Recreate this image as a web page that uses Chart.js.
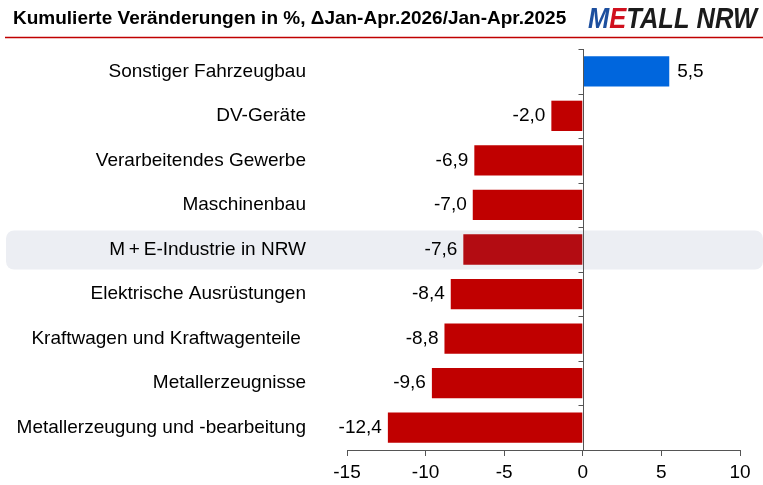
<!DOCTYPE html>
<html>
<head>
<meta charset="utf-8">
<script src="https://cdn.jsdelivr.net/npm/chart.js@4"></script>
<style>
  html, body { margin: 0; padding: 0; background: #fff; }
  #wrap { width: 763px; height: 485px; }
</style>
</head>
<body>
<div id="wrap"><canvas id="barChart" width="763" height="485"></canvas></div>
<script>
const categories = [
  "Sonstiger Fahrzeugbau",
  "DV-Geräte",
  "Verarbeitendes Gewerbe",
  "Maschinenbau",
  "M\u2009+\u2009E-Industrie in NRW",
  "Elektrische Ausrüstungen",
  "Kraftwagen und Kraftwagenteile ",
  "Metallerzeugnisse",
  "Metallerzeugung und -bearbeitung",
];
const changes = [5.5, -2.0, -6.9, -7.0, -7.6, -8.4, -8.8, -9.6, -12.4];
const highlightIndex = 4;
const xTicks = [-15, -10, -5, 0, 5, 10];

const title = "Kumulierte Veränderungen in %, \u0394Jan-Apr.2026/Jan-Apr.2025";
const FONT = "'Liberation Sans', Arial, sans-serif";

const barColors = changes.map((v, i) => {
  if (i === highlightIndex) return "#b30c12";
  return v >= 0 ? "#0066dd" : "#c00000";
});

const ctx = document.getElementById("barChart");

const decor = {
  id: "decor",
  beforeDraw(chart) {
    const c = chart.ctx;
    const y = chart.scales.y;
    // highlight band
    const yc = y.getPixelForValue(highlightIndex);
    c.save();
    c.fillStyle = "#eceef3";
    c.beginPath();
    c.roundRect(6, yc - 19, 757, 39, 8);
    c.fill();
    c.restore();
  },
  afterDraw(chart) {
    const c = chart.ctx;
    const x = chart.scales.x;
    const y = chart.scales.y;
    const area = chart.chartArea;
    c.save();
    // title
    c.fillStyle = "#000";
    c.font = "bold 19px " + FONT;
    c.textBaseline = "middle";
    c.textAlign = "left";
    c.fillText(title, 13, 19);
    // logo, squeezed to the reference width
    c.save();
    c.font = "italic bold 30px " + FONT;
    const parts = [["M", "#1d4f9e"], ["E", "#d0101e"], ["TALL NRW", "#1b1b1b"]];
    const full = c.measureText("METALL NRW").width;
    c.translate(588, 20);
    c.scale(169 / full, 1);
    let px = 0;
    parts.forEach(([t, col]) => {
      c.fillStyle = col;
      c.fillText(t, px, 0);
      px += c.measureText(t).width;
    });
    c.restore();
    // red rule
    c.strokeStyle = "#c00000";
    c.lineWidth = 1.5;
    c.beginPath();
    c.moveTo(5, 37.5);
    c.lineTo(763, 37.5);
    c.stroke();
    // zero line with category ticks
    const x0 = Math.round(x.getPixelForValue(0)) + 0.5;
    c.strokeStyle = "#555";
    c.lineWidth = 1;
    c.beginPath();
    c.moveTo(x0, area.top);
    c.lineTo(x0, area.bottom);
    for (let i = 0; i <= categories.length; i++) {
      const py = Math.round(y.getPixelForValue(i - 0.5)) + 0.5;
      c.moveTo(x0 - 5, py);
      c.lineTo(x0, py);
    }
    c.stroke();
    // value labels
    c.font = "19px " + FONT;
    c.fillStyle = "#000";
    chart.getDatasetMeta(0).data.forEach((bar, i) => {
      const v = changes[i];
      const txt = v.toFixed(1).replace(".", ",");
      if (v < 0) {
        c.textAlign = "right";
        c.fillText(txt, bar.x - 6, bar.y);
      } else {
        c.textAlign = "left";
        c.fillText(txt, bar.x + 8, bar.y);
      }
    });
    c.restore();
  },
};

new Chart(ctx, {
  type: "bar",
  data: {
    labels: categories,
    datasets: [
      {
        data: changes,
        backgroundColor: barColors,
        borderWidth: 0,
        categoryPercentage: 1,
        barPercentage: 0.68,
      },
    ],
  },
  options: {
    indexAxis: "y",
    responsive: false,
    animation: false,
    layout: { padding: { top: 49, right: 23, left: 0, bottom: 0 } },
    plugins: {
      legend: { display: false },
      tooltip: { enabled: false },
    },
    scales: {
      x: {
        min: -15,
        max: 10,
        afterBuildTicks: (axis) => {
          axis.ticks = xTicks.map((v) => ({ value: v }));
        },
        afterFit: (axis) => {
          axis.height = 35;
          axis.paddingLeft = 0;
          axis.paddingRight = 0;
        },
        grid: {
          display: true,
          drawOnChartArea: false,
          drawTicks: true,
          tickLength: 6,
          color: "#555",
        },
        border: { display: true, color: "#555" },
        ticks: {
          color: "#000",
          font: { size: 19, family: FONT },
          padding: 5,
          maxRotation: 0,
        },
      },
      y: {
        afterFit: (axis) => {
          axis.width = 347;
          axis.paddingTop = 0;
          axis.paddingBottom = 0;
        },
        grid: { display: false, drawTicks: false },
        border: { display: false },
        ticks: {
          color: "#000",
          padding: 41,
          font: { size: 19, family: FONT },
        },
      },
    },
  },
  plugins: [decor],
});
</script>
</body>
</html>
